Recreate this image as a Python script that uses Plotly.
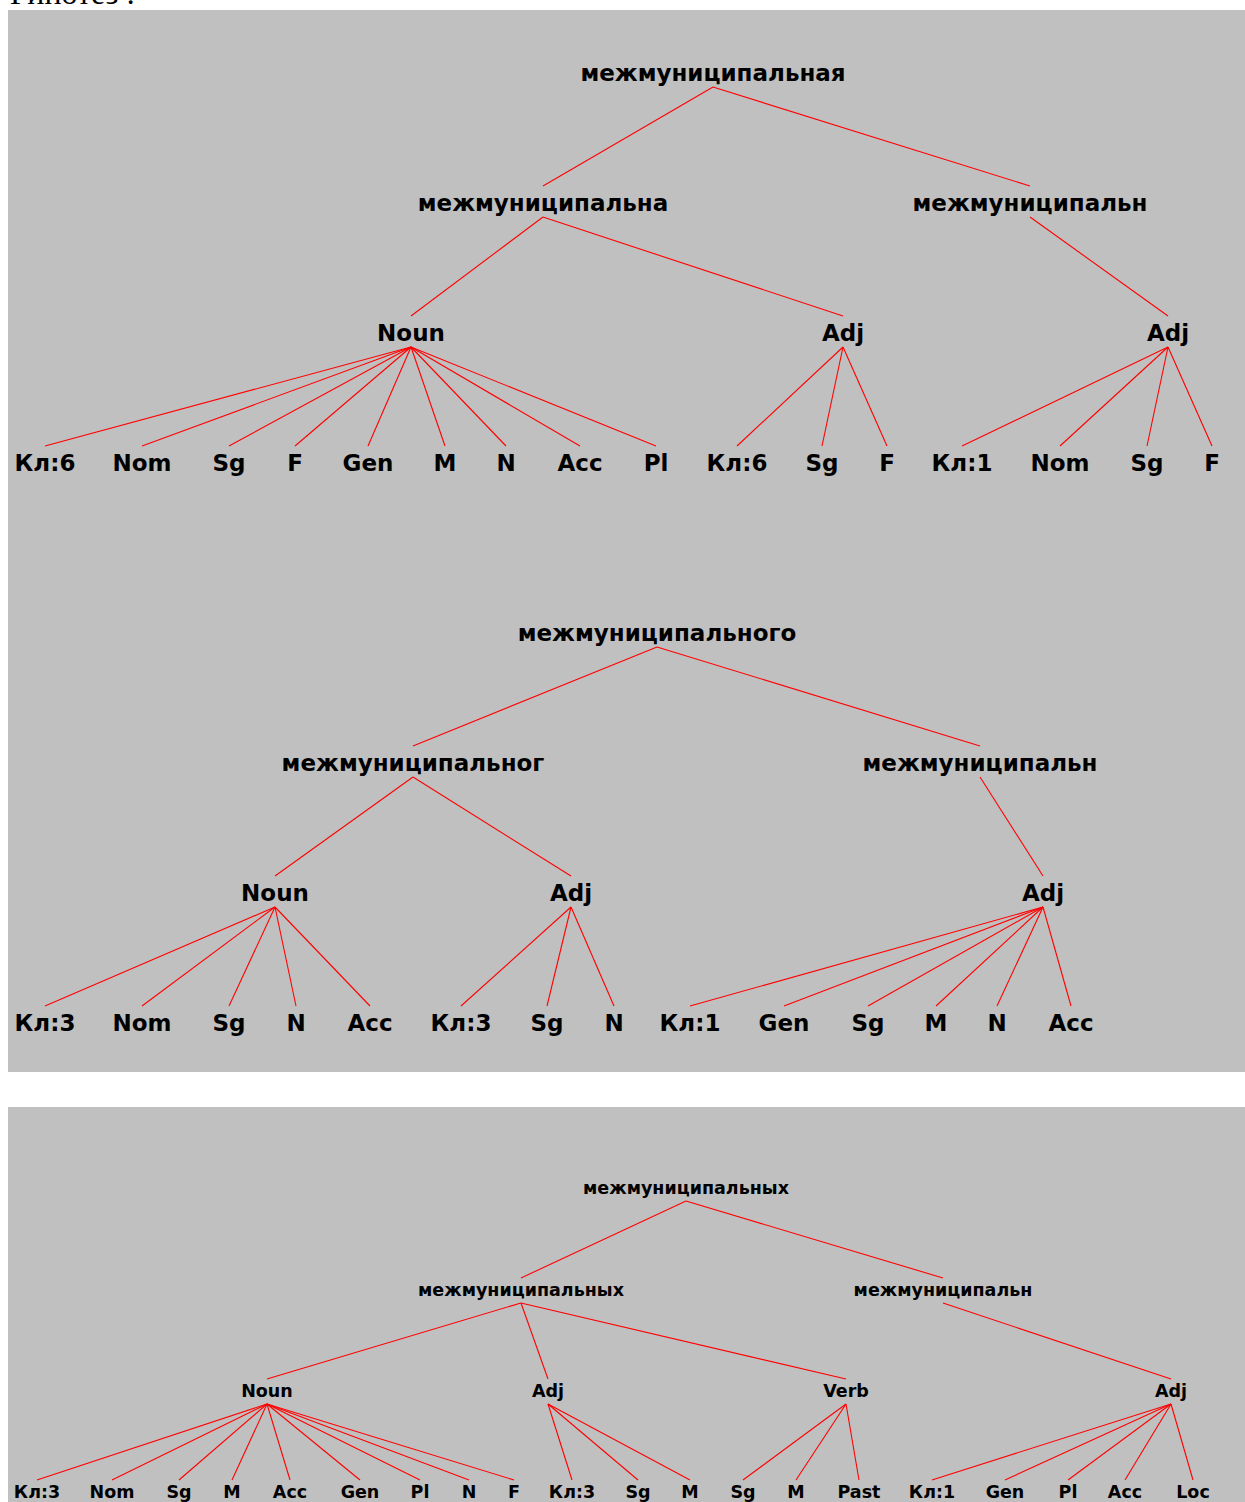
import plotly.graph_objects as go

# ---------------- data ----------------
# Tree 1 (upper panel, first hypothesis)
t1_labels = ["межмуниципальная",
             "межмуниципальна", "межмуниципальн",
             "Noun", "Adj", "Adj",
             "Кл:6", "Nom", "Sg", "F", "Gen", "M", "N", "Acc", "Pl",
             "Кл:6", "Sg", "F",
             "Кл:1", "Nom", "Sg", "F"]
t1_x = [713,
        543, 1030,
        411, 843, 1168,
        45, 142, 229, 295, 368, 445, 506, 580, 656,
        737, 822, 887,
        962, 1060, 1147, 1212]
t1_level = [0, 1, 1, 2, 2, 2] + [3] * 16
t1_parent = [-1, 0, 0, 1, 1, 2] + [3] * 9 + [4] * 3 + [5] * 4

# Tree 2 (upper panel, second hypothesis)
t2_labels = ["межмуниципального",
             "межмуниципальног", "межмуниципальн",
             "Noun", "Adj", "Adj",
             "Кл:3", "Nom", "Sg", "N", "Acc",
             "Кл:3", "Sg", "N",
             "Кл:1", "Gen", "Sg", "M", "N", "Acc"]
t2_x = [657,
        413, 980,
        275, 571, 1043,
        45, 142, 229, 296, 370,
        461, 547, 614,
        690, 784, 868, 936, 997, 1071]
t2_level = [0, 1, 1, 2, 2, 2] + [3] * 14
t2_parent = [-1, 0, 0, 1, 1, 2] + [3] * 5 + [4] * 3 + [5] * 6

# Tree 3 (lower panel)
t3_labels = ["межмуниципальных",
             "межмуниципальных", "межмуниципальн",
             "Noun", "Adj", "Verb", "Adj",
             "Кл:3", "Nom", "Sg", "M", "Acc", "Gen", "Pl", "N", "F",
             "Кл:3", "Sg", "M",
             "Sg", "M", "Past",
             "Кл:1", "Gen", "Pl", "Acc", "Loc"]
t3_x = [686,
        521, 943,
        267, 548, 846, 1171,
        37, 112, 179, 232, 290, 360, 420, 469, 514,
        572, 638, 690,
        743, 796, 859,
        932, 1005, 1068, 1125, 1193]
t3_level = [0, 1, 1, 2, 2, 2, 2] + [3] * 20
t3_parent = [-1, 0, 0, 1, 1, 1, 2] + [3] * 9 + [4] * 3 + [5] * 3 + [6] * 5

# row positions for each tree
t1_rows = [73, 203, 333, 463]
t2_rows = [633, 763, 893, 1023]
t3_rows = [1189, 1291, 1392, 1493]

heading = "Гипотез :"

# ---------------- figure ----------------
W, H = 1245, 1502
fig = go.Figure()

GRAY = "#C0C0C0"
fig.add_shape(type="rect", x0=8, x1=W, y0=10, y1=1072, fillcolor=GRAY,
              line=dict(width=0), layer="below")
fig.add_shape(type="rect", x0=8, x1=W, y0=1107, y1=H, fillcolor=GRAY,
              line=dict(width=0), layer="below")


def add_tree(labels, xs, levels, parents, rows, fsize, off_start, off_end, tshift):
    lx, ly = [], []
    for i, p in enumerate(parents):
        if p < 0:
            continue
        lx += [xs[p], xs[i], None]
        ly += [rows[levels[p]] + off_start, rows[levels[i]] - off_end, None]
    fig.add_trace(go.Scatter(x=lx, y=ly, mode="lines",
                             line=dict(color="#FF0000", width=1.1),
                             hoverinfo="skip", showlegend=False))
    fig.add_trace(go.Scatter(x=xs, y=[rows[l] + tshift for l in levels], mode="text",
                             text=labels, textposition="middle center",
                             textfont=dict(family="DejaVu Sans", size=fsize,
                                           color="#000000", weight="bold"),
                             hoverinfo="skip", showlegend=False,
                             cliponaxis=False))


add_tree(t1_labels, t1_x, t1_level, t1_parent, t1_rows, 23, 14, 17, 2.5)
add_tree(t2_labels, t2_x, t2_level, t2_parent, t2_rows, 23, 14, 17, 2.5)
add_tree(t3_labels, t3_x, t3_level, t3_parent, t3_rows, 17.5, 12, 13, 1)

fig.add_annotation(x=8, y=13, xref="x", yref="y", text=heading,
                   showarrow=False, xanchor="left", yanchor="bottom",
                   font=dict(family="Liberation Serif", size=32, color="#000000"))

fig.update_xaxes(range=[0, W], visible=False, fixedrange=True)
fig.update_yaxes(range=[H, 0], visible=False, fixedrange=True)
fig.update_layout(width=W, height=H, margin=dict(l=0, r=0, t=0, b=0),
                  paper_bgcolor="white", plot_bgcolor="white",
                  showlegend=False)

fig.write_html("out.html", config={"displayModeBar": False},
               post_script="document.body.style.margin='0';document.body.style.overflow='hidden';")
